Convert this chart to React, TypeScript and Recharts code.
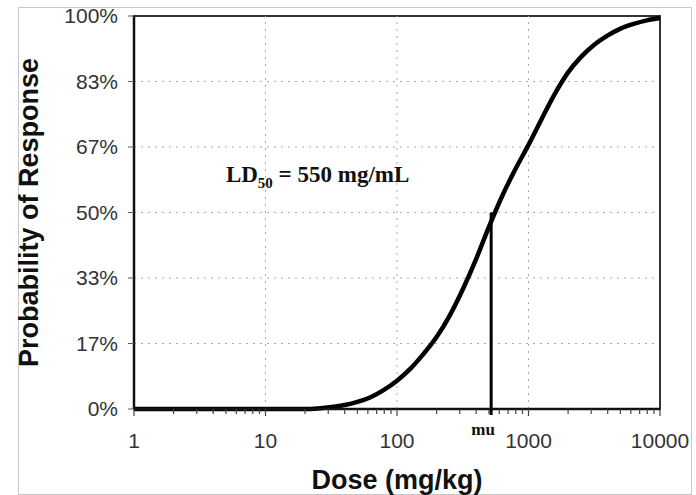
import {
  CartesianGrid,
  Line,
  LineChart,
  ReferenceArea,
  ReferenceDot,
  ReferenceLine,
  XAxis,
  YAxis,
} from "recharts";

// dose (mg/kg) and probability of response (%)
const doses = [1, 5, 10, 20, 25, 32, 40, 50, 63, 79, 100, 126, 158, 200, 251, 316, 398, 501, 631, 794, 1000, 1259, 1585, 1995, 2512, 3162, 3981, 5012, 6310, 7943, 10000];
const responses = [0, 0, 0, 0, 0.15, 0.5, 1.0, 1.8, 3.0, 4.8, 7.2, 10.2, 13.9, 18.3, 23.7, 30.4, 38.0, 46.4, 54.2, 61.0, 67.2, 73.8, 80.2, 85.6, 89.6, 92.7, 95.0, 96.8, 98.0, 98.9, 99.5];

const decadeTicks = [1, 10, 100, 1000, 10000];
const minorTicks = decadeTicks.slice(0, -1).flatMap((d) => [2, 3, 4, 5, 6, 7, 8, 9].map((m) => d * m));
const percentTicks = [0, 16.67, 33.33, 50, 66.67, 83.33, 100];
const gridDoses = [10, 100, 1000];
const muDose = 520;
const ld50Value = "550 mg/mL";

const data = doses.map((dose, i) => ({ dose, p: responses[i] }));

const sans = "'Liberation Sans', Arial, sans-serif";
const serif = "'Liberation Serif', 'Times New Roman', serif";

function DoseTick({ x, y, payload }: any) {
  const v = payload.value;
  const major = decadeTicks.includes(v);
  const mu = v === muDose;
  return (
    <g>
      <line
        x1={x}
        x2={x}
        y1={y}
        y2={y + (major ? 7 : mu ? 6 : 5)}
        stroke={mu ? "#000" : "#444"}
        strokeWidth={mu ? 3 : 1.2}
      />
      {major && (
        <text x={x} y={y + 39} textAnchor="middle" fontFamily={sans} fontSize={21} fill="#333">
          {v}
        </text>
      )}
      {mu && (
        <text x={x - 8} y={y + 26} textAnchor="middle" fontFamily={serif} fontWeight="bold" fontSize={17} fill="#111">
          mu
        </text>
      )}
    </g>
  );
}

export default function App() {
  const xTicks = [...decadeTicks, ...minorTicks, muDose].sort((a, b) => a - b);
  return (
    <div style={{ position: "absolute", left: 0, top: 0, width: 696, height: 495, background: "#fff" }}>
      <div
        style={{
          position: "absolute",
          left: 18,
          top: 7,
          width: 672,
          height: 486,
          border: "1px solid #c8c8c8",
        }}
      />
      <LineChart
        width={696}
        height={495}
        data={data}
        margin={{ top: 16, right: 36, bottom: 0, left: 0 }}
        style={{ position: "absolute", left: 0, top: 0 }}
      >
        <CartesianGrid vertical={false} stroke="#aaa" strokeDasharray="2 5" />
        {gridDoses.map((d) => (
          <ReferenceLine key={d} x={d} stroke="#aaa" strokeDasharray="2 5" />
        ))}
        <XAxis
          dataKey="dose"
          type="number"
          scale="log"
          domain={[1, 10000]}
          ticks={xTicks}
          interval={0}
          tickSize={0}
          tickMargin={0}
          tick={<DoseTick />}
          tickLine={false}
          axisLine={{ stroke: "#111", strokeWidth: 2.5 }}
          height={86}
          label={{
            content: ({ viewBox }: any) => (
              <text
                x={viewBox.x + viewBox.width / 2}
                y={viewBox.y + 80}
                textAnchor="middle"
                fontFamily={sans}
                fontWeight="bold"
                fontSize={27}
                fill="#111"
              >
                Dose (mg/kg)
              </text>
            ),
          }}
        />
        <YAxis
          type="number"
          domain={[0, 100]}
          ticks={percentTicks}
          interval={0}
          width={134}
          tickSize={6}
          tickMargin={10}
          tickFormatter={(v: number) => `${Math.round(v)}%`}
          tick={{ fontFamily: sans, fontSize: 21, fill: "#333" }}
          tickLine={{ stroke: "#555" }}
          axisLine={{ stroke: "#111", strokeWidth: 2.5 }}
          label={{
            content: ({ viewBox }: any) => {
              const cx = 38;
              const cy = viewBox.y + viewBox.height / 2;
              return (
                <text
                  x={cx}
                  y={cy}
                  transform={`rotate(-90, ${cx}, ${cy})`}
                  textAnchor="middle"
                  fontFamily={sans}
                  fontWeight="bold"
                  fontSize={27}
                  fill="#111"
                >
                  Probability of Response
                </text>
              );
            },
          }}
        />
        <ReferenceArea x1={1} x2={10000} y1={0} y2={100} fill="none" stroke="#333" strokeWidth={2} />
        <ReferenceLine
          segment={[
            { x: muDose, y: 0 },
            { x: muDose, y: 50 },
          ]}
          stroke="#000"
          strokeWidth={3}
        />
        <Line
          dataKey="p"
          type="monotone"
          stroke="#000"
          strokeWidth={4.5}
          dot={false}
          isAnimationActive={false}
        />
        <ReferenceDot
          x={5}
          y={57.8}
          r={0}
          fill="none"
          stroke="none"
          label={{
            content: ({ viewBox }: any) => (
              <text x={viewBox.x} y={viewBox.y} fontFamily={serif} fontWeight="bold" fontSize={23} fill="#111">
                LD
                <tspan dy={6} fontSize={15}>
                  50
                </tspan>
                <tspan dy={-6}> = {ld50Value}</tspan>
              </text>
            ),
          }}
        />
      </LineChart>
    </div>
  );
}
